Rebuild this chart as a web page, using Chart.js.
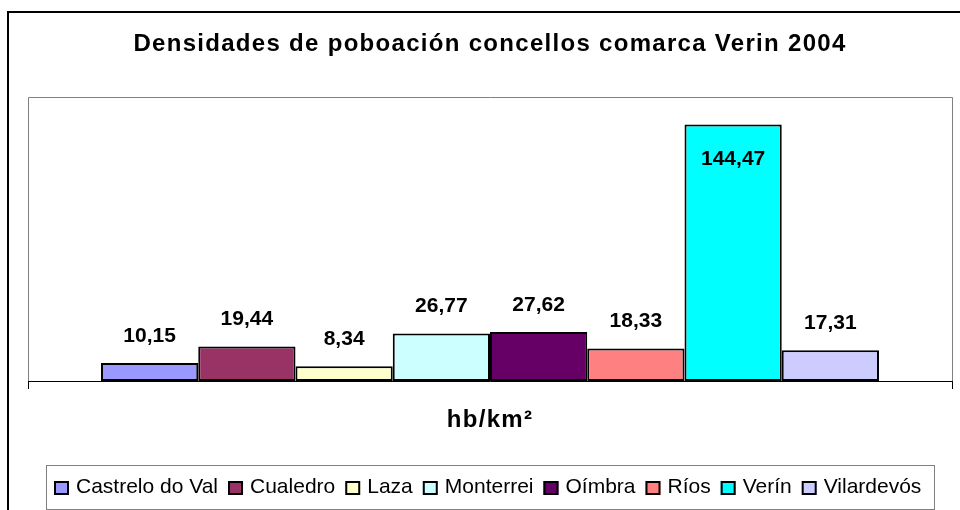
<!DOCTYPE html>
<html>
<head>
<meta charset="utf-8">
<script src="https://cdn.jsdelivr.net/npm/chart.js@4/dist/chart.umd.min.js"></script>
<style>
  html, body { margin: 0; padding: 0; background: #ffffff; }
  #wrap { width: 960px; height: 510px; position: relative; }
</style>
</head>
<body>
<div id="wrap"><canvas id="c" width="960" height="510"></canvas></div>
<script>
const chartTitle = 'Densidades de poboación concellos comarca Verin 2004';
const categories = ['hb/km²'];
const seriesNames = ['Castrelo do Val', 'Cualedro', 'Laza', 'Monterrei', 'Oímbra', 'Ríos', 'Verín', 'Vilardevós'];
const seriesValues = [10.15, 19.44, 8.34, 26.77, 27.62, 18.33, 144.47, 17.31];
const seriesColors = ['#9999FF', '#993366', '#FFFFCC', '#CCFFFF', '#660066', '#FF8080', '#00FFFF', '#CCCCFF'];

const FONT = "'Liberation Sans', Arial, sans-serif";

const datasets = seriesNames.map((name, i) => ({
  label: name,
  data: [seriesValues[i]],
  backgroundColor: seriesColors[i],
  borderColor: '#000000',
  borderWidth: 2,
  borderSkipped: false,
  categoryPercentage: 0.842,
  barPercentage: 1.0
}));

const framePlugin = {
  id: 'framePlugin',
  beforeDraw(chart) {
    // Excel-like loose letter spacing for title and axis label
    chart.ctx.letterSpacing = '1.3px';
  },
  beforeDatasetsDraw(chart) {
    const { ctx, chartArea: a } = chart;
    ctx.letterSpacing = '0px';
    ctx.save();
    ctx.strokeStyle = '#808080';
    ctx.lineWidth = 1;
    ctx.beginPath();
    ctx.moveTo(Math.round(a.left) + 0.5, Math.round(a.bottom));
    ctx.lineTo(Math.round(a.left) + 0.5, Math.round(a.top) + 0.5);
    ctx.lineTo(Math.round(a.right) + 0.5, Math.round(a.top) + 0.5);
    ctx.lineTo(Math.round(a.right) + 0.5, Math.round(a.bottom));
    ctx.stroke();
    ctx.restore();
  },
  afterDatasetsDraw(chart) {
    const { ctx, chartArea: a } = chart;
    ctx.save();
    ctx.letterSpacing = '0px';
    ctx.font = 'bold 21px ' + FONT;
    ctx.fillStyle = '#000000';
    ctx.textAlign = 'center';
    ctx.textBaseline = 'middle';
    chart.data.datasets.forEach((ds, i) => {
      const bar = chart.getDatasetMeta(i).data[0];
      if (!bar) return;
      const txt = ds.data[0].toFixed(2).replace('.', ',');
      let y = bar.y - 27;
      if (y - 12 < a.top) y = bar.y + 35;
      ctx.fillText(txt, bar.x, y);
    });
    ctx.restore();
  },
  afterDraw(chart) {
    const { ctx } = chart;
    ctx.save();
    ctx.letterSpacing = '0px';
    // outer chart frame
    ctx.strokeStyle = '#000000';
    ctx.lineWidth = 2;
    ctx.strokeRect(8, 12, 1000, 600);
    // legend box
    ctx.strokeStyle = '#808080';
    ctx.lineWidth = 1;
    ctx.strokeRect(46.5, 465.5, 888, 44);
    // legend items
    ctx.font = '21px ' + FONT;
    ctx.textBaseline = 'alphabetic';
    ctx.textAlign = 'left';
    const boxW = 15, boxH = 14, gapText = 7, gapItem = 10;
    const ds = chart.data.datasets;
    let total = 0;
    ds.forEach((d, i) => {
      total += boxW + gapText + ctx.measureText(d.label).width;
      if (i < ds.length - 1) total += gapItem;
    });
    let x = Math.round(488 - total / 2);
    ds.forEach((d) => {
      ctx.fillStyle = d.backgroundColor;
      ctx.fillRect(x, 481, boxW, boxH);
      ctx.strokeStyle = '#000000';
      ctx.lineWidth = 2;
      ctx.strokeRect(x + 1, 482, boxW - 2, boxH - 2);
      ctx.fillStyle = '#000000';
      ctx.fillText(d.label, x + boxW + gapText, 493);
      x += boxW + gapText + ctx.measureText(d.label).width + gapItem;
    });
    ctx.restore();
  }
};

new Chart(document.getElementById('c'), {
  type: 'bar',
  data: { labels: categories, datasets: datasets },
  options: {
    responsive: false,
    animation: false,
    devicePixelRatio: 1,
    layout: { padding: { left: 28, right: 8, top: 0, bottom: 0 } },
    plugins: {
      legend: { display: false },
      tooltip: { enabled: false },
      title: {
        display: true,
        text: chartTitle,
        color: '#000000',
        font: { family: FONT, size: 24, weight: 'bold' },
        padding: { top: 30, bottom: 38 }
      }
    },
    scales: {
      x: {
        offset: true,
        afterFit(scale) { scale.height = 129; },
        grid: {
          display: true,
          offset: true,
          drawOnChartArea: false,
          drawTicks: true,
          tickLength: 8,
          color: '#000000'
        },
        border: { display: true, color: '#000000', width: 1 },
        ticks: {
          color: '#000000',
          padding: 17,
          font: { family: FONT, size: 24, weight: 'bold' }
        }
      },
      y: {
        display: false,
        min: 0,
        max: 160
      }
    }
  },
  plugins: [framePlugin]
});
</script>
</body>
</html>
